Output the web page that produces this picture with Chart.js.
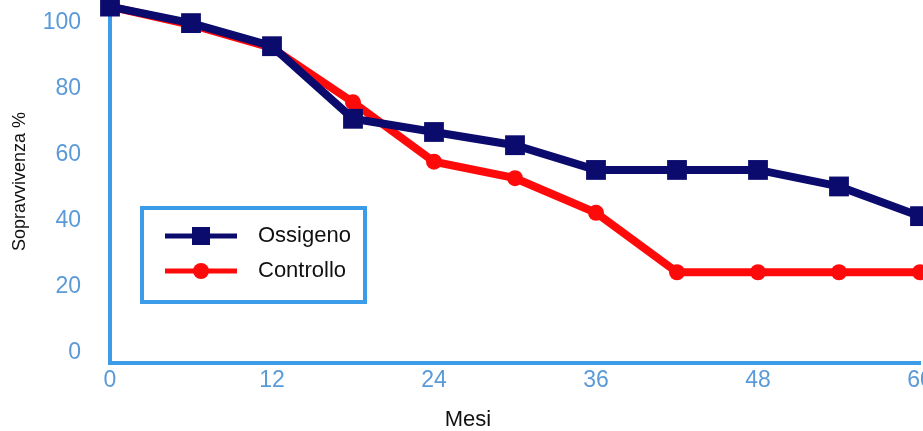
<!DOCTYPE html>
<html>
<head>
<meta charset="utf-8">
<script src="https://cdn.jsdelivr.net/npm/chart.js@4/dist/chart.umd.min.js"></script>
<style>
  html, body { margin: 0; padding: 0; background: #fff; }
  #wrap { width: 923px; height: 431px; }
</style>
</head>
<body>
<div id="wrap"><canvas id="chart" width="923" height="431"></canvas></div>
<script>
const mesi = [0, 6, 12, 18, 24, 30, 36, 42, 48, 54, 60];
const ossigeno = [105, 100, 93, 71, 67, 63, 55.5, 55.5, 55.5, 50.5, 41.5];
const controllo = [105, 99.5, 92.5, 76, 58, 53, 42.5, 24.5, 24.5, 24.5, 24.5];
const yTicks = [0, 20, 40, 60, 80, 100];
const xTicks = [0, 12, 24, 36, 48, 60];

const axisBlue = '#3d9ce8';
const tickBlue = '#5a9ad8';
const navy = '#0b0b6e';
const red = '#ff0a0a';
const sans = '"Liberation Sans", Arial, sans-serif';

const toPoints = (vals) => vals.map((v, i) => ({ x: mesi[i], y: v }));

// no extra room for edge labels, the plot runs to the canvas edges
const noEdgePad = (s) => {
    s.paddingTop = 0;
    s.paddingBottom = 0;
    s.paddingLeft = 0;
    s.paddingRight = 0;
};

// legend drawn as a framed box inside the plot, plus the "Mesi" caption
const boxLegend = {
    id: 'boxLegend',
    afterDatasetsDraw(chart) {
        const ctx = chart.ctx;
        ctx.save();
        ctx.strokeStyle = axisBlue;
        ctx.lineWidth = 4;
        ctx.strokeRect(142, 208, 223, 94);

        const rows = [
            { label: 'Ossigeno', color: navy, square: true, y: 236 },
            { label: 'Controllo', color: red, square: false, y: 271 }
        ];
        rows.forEach(r => {
            ctx.strokeStyle = r.color;
            ctx.lineWidth = 5;
            ctx.beginPath();
            ctx.moveTo(165, r.y);
            ctx.lineTo(237, r.y);
            ctx.stroke();
            ctx.fillStyle = r.color;
            if (r.square) {
                ctx.fillRect(192, r.y - 9, 18, 18);
            } else {
                ctx.beginPath();
                ctx.arc(201, r.y, 8, 0, Math.PI * 2);
                ctx.fill();
            }
            ctx.fillStyle = '#111';
            ctx.font = '22px ' + sans;
            ctx.textBaseline = 'middle';
            ctx.fillText(r.label, 258, r.y);
        });

        ctx.fillStyle = '#111';
        ctx.font = '22px ' + sans;
        ctx.textAlign = 'center';
        ctx.textBaseline = 'middle';
        ctx.fillText('Mesi', 468, 420);
        ctx.restore();
    }
};

new Chart(document.getElementById('chart'), {
    type: 'line',
    data: {
        datasets: [
            {
                label: 'Ossigeno',
                data: toPoints(ossigeno),
                borderColor: navy,
                backgroundColor: navy,
                borderWidth: 8,
                pointStyle: 'rect',
                pointRadius: 14,
                pointBorderWidth: 0,
                tension: 0
            },
            {
                label: 'Controllo',
                data: toPoints(controllo),
                borderColor: red,
                backgroundColor: red,
                borderWidth: 8,
                pointStyle: 'circle',
                pointRadius: 8,
                pointBorderWidth: 0,
                tension: 0
            }
        ]
    },
    options: {
        responsive: false,
        animation: false,
        clip: false,
        layout: { autoPadding: false, padding: { top: 0, right: 3, bottom: 0, left: 0 } },
        plugins: {
            legend: { display: false },
            tooltip: { enabled: false }
        },
        scales: {
            x: {
                type: 'linear',
                min: 0,
                max: 60,
                afterBuildTicks: (s) => { s.ticks = xTicks.map(v => ({ value: v })); },
                afterFit: (s) => { s.height = 68; noEdgePad(s); },
                grid: { display: false, drawTicks: false },
                border: { display: true, color: axisBlue, width: 4 },
                ticks: {
                    color: tickBlue,
                    padding: 4,
                    maxRotation: 0,
                    font: { family: sans, size: 23 }
                },
                title: { display: false }
            },
            y: {
                min: -3,
                max: 107,
                afterBuildTicks: (s) => { s.ticks = yTicks.map(v => ({ value: v })); },
                afterFit: (s) => { s.width = 110; noEdgePad(s); },
                grid: { display: false, drawTicks: false },
                border: { display: true, color: axisBlue, width: 4 },
                ticks: {
                    color: tickBlue,
                    padding: 29,
                    font: { family: sans, size: 23 }
                },
                title: {
                    display: true,
                    text: 'Sopravvivenza %',
                    color: '#111',
                    padding: { top: 9, bottom: 0 },
                    font: { family: sans, size: 18 }
                }
            }
        }
    },
    plugins: [boxLegend]
});
</script>
</body>
</html>
